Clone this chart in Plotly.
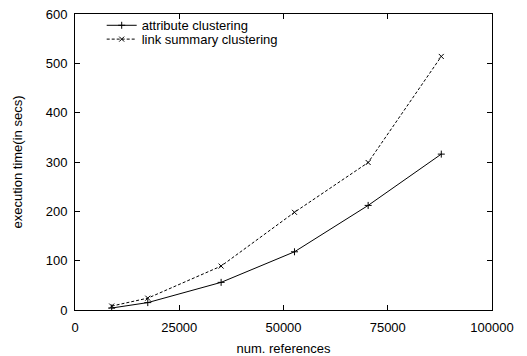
import plotly.graph_objects as go

num_refs = [8800, 17450, 35040, 52630, 70300, 87840]
attr_time = [4, 15, 56, 118, 212, 316]
link_time = [8, 24, 89, 198, 299, 514]

x_ticks = [0, 25000, 50000, 75000, 100000]
y_ticks = [0, 100, 200, 300, 400, 500, 600]

FONT = "Liberation Sans, Arial, Helvetica, sans-serif"

fig = go.Figure()
fig.add_trace(go.Scatter(
    x=num_refs, y=attr_time, mode="lines+markers", name="attribute clustering",
    line=dict(color="black", width=1, dash="solid"),
    marker=dict(symbol="cross-thin", size=5, color="black", line=dict(width=1, color="black")),
    legend="legend",
))
fig.add_trace(go.Scatter(
    x=num_refs, y=link_time, mode="lines+markers", name="link summary clustering",
    line=dict(color="black", width=1, dash="3px,2px"),
    marker=dict(symbol="x-thin", size=5, color="black", line=dict(width=1, color="black")),
    legend="legend2",
))

axis_common = dict(
    showgrid=False, zeroline=False, showline=True, linecolor="black", linewidth=1,
    mirror="allticks", ticks="inside", ticklen=5, tickcolor="black", automargin=False,
    tickfont=dict(family=FONT, size=13, color="black"),
)
fig.update_xaxes(range=[0, 100000], tickvals=x_ticks, ticktext=[str(v) for v in x_ticks],
                 ticklabelstandoff=5,
                 title=dict(text="num. references", standoff=10,
                            font=dict(family=FONT, size=13, color="black")),
                 **axis_common)
fig.update_yaxes(range=[0, 600], tickvals=y_ticks, ticktext=[str(v) for v in y_ticks],
                 ticklabelstandoff=4,
                 title=dict(text="execution time(in secs)", standoff=20,
                            font=dict(family=FONT, size=13, color="black")),
                 **axis_common)

leg_common = dict(x=0.064, xanchor="left", yanchor="middle", bgcolor="rgba(0,0,0,0)",
                  font=dict(family=FONT, size=13, color="black"), borderwidth=0)
fig.update_layout(
    width=527, height=356,
    margin=dict(l=75, r=35, t=10, b=46),
    plot_bgcolor="white", paper_bgcolor="white",
    font=dict(family=FONT, size=13, color="black"),
    legend=dict(y=(310 - 21.5) / 300, **leg_common),
    legend2=dict(y=(310 - 35.5) / 300, **leg_common),
    showlegend=True,
)

fig.write_html("out.html")
